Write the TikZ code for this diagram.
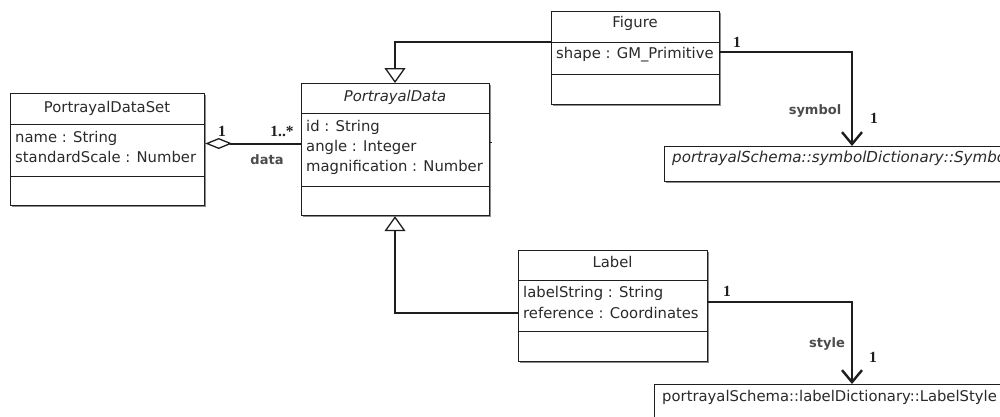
\documentclass[tikz,border=0pt]{standalone}
\usepackage{fontspec}
\setmainfont{DejaVu Sans}
\newfontfamily\multfont{Liberation Serif}
\usetikzlibrary{arrows.meta,shadows}
\definecolor{ink}{HTML}{1E1E1E}
\definecolor{txt}{HTML}{2A2A2A}
\begin{document}
\begin{tikzpicture}[x=1pt,y=-1pt,
  cls/.style={draw=ink, line width=1.2pt, fill=white, anchor=north west, inner sep=0pt,
    drop shadow={shadow xshift=1.3pt,shadow yshift=-1.3pt,fill=black!45,opacity=1}},
  divline/.style={draw=ink, line width=0.9pt},
  titletext/.style={font=\fontsize{14.8}{17}\selectfont, text=txt, anchor=base, inner sep=0pt},
  ititletext/.style={font=\itshape\fontsize{14.8}{17}\selectfont, text=txt, anchor=base, inner sep=0pt},
  attrtext/.style={font=\fontsize{14.8}{17}\selectfont, text=txt, anchor=base west, inner sep=0pt},
  iattrtext/.style={font=\itshape\fontsize{15.1}{17}\selectfont, text=txt, anchor=base west, inner sep=0pt},
  multlabel/.style={font=\multfont\bfseries\fontsize{15.5}{17}\selectfont, text=ink, inner sep=0pt},
  rolelabel/.style={font=\bfseries\fontsize{13}{15}\selectfont, text=black!70, inner sep=0pt},
  genline/.style={draw=ink, line width=2pt, -{Triangle[open, length=15pt, width=21pt, line width=1.3pt]}},
  aggline/.style={draw=ink, line width=2pt, {Diamond[open, length=27pt, width=11pt, line width=1.3pt]}-},
  navline/.style={draw=ink, line width=2pt, -{Straight Barb[length=12pt, width=20pt, line width=2.4pt]}}
]
\useasboundingbox (0,0) rectangle (1000,416);
\clip (0,0) rectangle (1000,416);
\fill[white] (0,0) rectangle (1000,416);

% ---- class boxes ----
\node[cls, minimum width=194pt, minimum height=112pt] (pds) at (10,93) {};
\node[cls, minimum width=188pt, minimum height=132pt] (pd) at (301,83) {};
\node[cls, minimum width=168pt, minimum height=93pt] (fig) at (551,11) {};
\node[cls, minimum width=189pt, minimum height=111pt] (lab) at (518,250) {};
\node[cls, minimum width=380pt, minimum height=35pt] (sym) at (664,146) {};
\node[cls, minimum width=380pt, minimum height=45pt] (ls) at (654,384) {};

% ---- dividers ----
\draw[divline] (pds.west |- 0,124) -- (pds.east |- 0,124);
\draw[divline] (pds.west |- 0,176) -- (pds.east |- 0,176);
\draw[divline] (pd.west |- 0,113) -- (pd.east |- 0,113);
\draw[divline] (pd.west |- 0,186) -- (pd.east |- 0,186);
\draw[divline] (fig.west |- 0,42) -- (fig.east |- 0,42);
\draw[divline] (fig.west |- 0,74) -- (fig.east |- 0,74);
\draw[divline] (lab.west |- 0,280) -- (lab.east |- 0,280);
\draw[divline] (lab.west |- 0,331) -- (lab.east |- 0,331);

% ---- texts ----
\node[titletext] (pdsT) at (107,112) {PortrayalDataSet};
\node[attrtext] (pdsA1) at (15,142) {name : String};
\node[attrtext] (pdsA2) at (15,162) {standardScale : Number};

\node[ititletext] (pdT) at (395,101) {PortrayalData};
\node[attrtext] (pdA1) at (306,131) {id : String};
\node[attrtext] (pdA2) at (306,151) {angle : Integer};
\node[attrtext] (pdA3) at (306,171) {magnification : Number};

\node[titletext] (figT) at (635,27) {Figure};
\node[attrtext] (figA1) at (556,58) {shape : GM\_Primitive};

\node[titletext] (labT) at (612.5,267) {Label};
\node[attrtext] (labA1) at (523,297) {labelString : String};
\node[attrtext] (labA2) at (523,318) {reference : Coordinates};

\node[iattrtext] (symT) at (672,162) {portrayalSchema::symbolDictionary::Symbol};
\node[attrtext] (lsT) at (662,401) {portrayalSchema::labelDictionary::LabelStyle};

% ---- connectors ----
\draw[aggline] (pds.east |- 0,143.5) -- (pd.west |- 0,143.5);
\draw[genline] (fig.west |- 0,42) -| (pd.north -| 395,0);
\draw[genline] (lab.west |- 0,313) -| (pd.south -| 395,0);
\draw[navline] (fig.east |- 0,52) -| (sym.north -| 852,0);
\draw[navline] (lab.east |- 0,302) -| (ls.north -| 852,0);
\coordinate (pdStub) at (492,142);
\draw[draw=ink, line width=1pt] (pd.east |- pdStub) -- (pdStub);

% ---- association labels ----
\node[multlabel] (m1) at (222,131) {1};
\node[multlabel] (m2) at (282,131) {1..*};
\node[rolelabel] (r1) at (267,160) {data};
\node[multlabel] (m3) at (737,42) {1};
\node[rolelabel] (r2) at (815,111) {symbol};
\node[multlabel] (m4) at (874,118) {1};
\node[multlabel] (m5) at (727,291) {1};
\node[rolelabel] (r3) at (827,344) {style};
\node[multlabel] (m6) at (873,357) {1};
\end{tikzpicture}
\end{document}
